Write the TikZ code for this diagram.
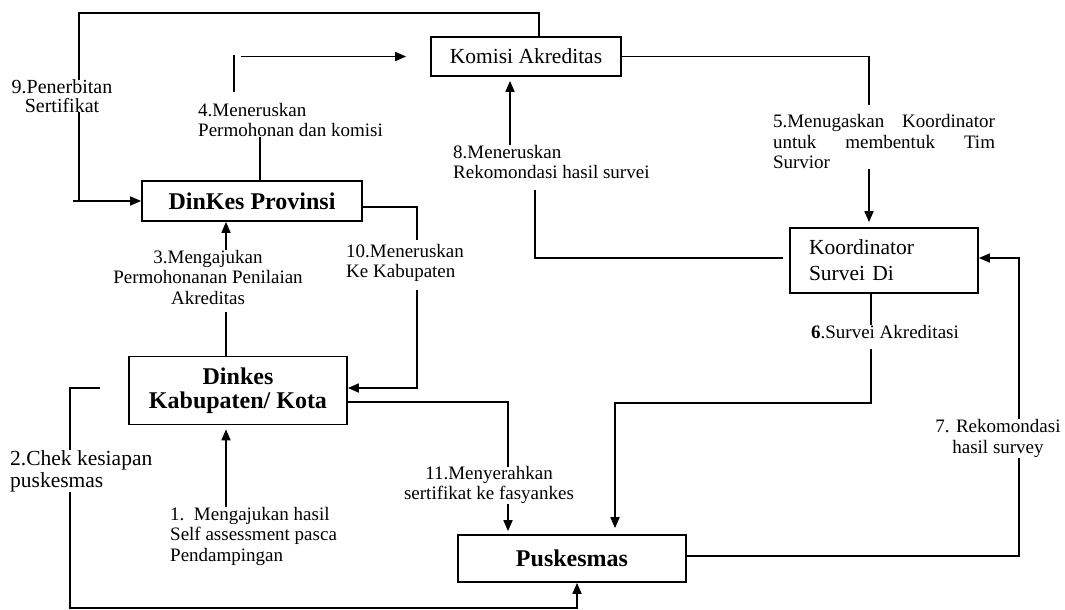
\documentclass[tikz,border=0pt]{standalone}
\usepackage{fontspec}
\setmainfont{Liberation Serif}
\usetikzlibrary{arrows.meta,positioning,calc}

\begin{document}
\begin{tikzpicture}[
    x=1pt, y=-1pt,
    box/.style={draw, line width=1.7pt, inner sep=0pt, align=center},
    boxtext/.style={font=\fontsize{21.5}{26}\selectfont},
    boldtext/.style={font=\fontsize{24}{24.5}\selectfont\bfseries},
    note/.style={font=\fontsize{19}{20.5}\selectfont, inner sep=0pt},
    line/.style={line width=1.7pt},
    arrow/.style={line, -{Triangle[length=11pt,width=9pt]}},
]
\useasboundingbox (0,0) rectangle (1065,610);

% Boxes
\node[box, boxtext, minimum width=190pt, minimum height=39pt] (kom) at (526,56.5) {Komisi Akreditas};
\node[box, boldtext, minimum width=220pt, minimum height=40pt] (prov) at (252,201) {DinKes Provinsi};
\node[box, boxtext, align=left, text width=150pt, inner xsep=19pt, minimum height=65pt] (koor) at (884,260.5) {Koordinator\\Survei Di};
\node[box, boldtext, minimum width=218pt, minimum height=68pt] (kab) at (238,390.5) {Dinkes\\Kabupaten/ Kota};
\node[box, boldtext, minimum width=228pt, minimum height=47pt] (pusk) at (572,558.5) {Puskesmas};

% Step labels
\node[note, align=center, font=\fontsize{20}{18.5}\selectfont] (lab9) at (62,96) {9.Penerbitan\\Sertifikat};
\node[note, align=left, anchor=west] (lab4) at (198,120) {4.Meneruskan\\Permohonan dan komisi};
\node[note, align=left, anchor=west] (lab8) at (453,162) {8.Meneruskan\\Rekomondasi hasil survei};
\node[note, align=left, text width=222pt] (lab5) at (884,142) {5.Menugaskan\hfill Koordinator\\untuk\hfill membentuk\hfill Tim\\Survior};
\node[note, align=center] (lab3) at (208,277) {3.Mengajukan\\Permohonanan Penilaian\\Akreditas};
\node[note, align=left, anchor=west] (lab10) at (346,263) {10.Meneruskan\\Ke Kabupaten};
\node[note, align=center] (lab6) at (885,332) {\textbf{6}.Survei Akreditasi};
\node[note, align=left, anchor=west, font=\fontsize{21.5}{22}\selectfont] (lab2) at (10,471) {2.Chek kesiapan\\puskesmas};
\node[note, align=center] (lab11) at (489,485) {11.Menyerahkan\\sertifikat ke fasyankes};
\node[note, align=center] (lab7) at (998,438.5) {7. Rekomondasi\\hasil survey};
\node[note, align=left, anchor=west] (lab1) at (170,536) {1.\ \ Mengajukan hasil\\Self assessment pasca\\Pendampingan};

% Lanes and bends
\coordinate (lane9) at (79,13);
\coordinate (stub9) at (73,201);
\coordinate (lane4) at (234,55);
\coordinate (lane4b) at (234,92);
\coordinate (lane5) at (869,105);
\coordinate (lane8) at (535,190);
\coordinate (lane3) at (226,0);
\coordinate (lane10) at (417,240);
\coordinate (lane11) at (508,467);
\coordinate (lane6) at (871,0);
\coordinate (bend6) at (615,403);
\coordinate (lane7) at (1019,0);
\coordinate (lane2) at (70,388);
\coordinate (stub2) at (100,388);
\coordinate (bot2) at (577,608);

% 9: Komisi back to Provinsi
\draw[line] ([xshift=13pt]kom.north) |- (lane9) -- (lane9 |- lab9.north);
\draw[arrow] (lab9.south -| lane9) |- (prov.west);
\draw[line] (stub9) -- (stub9 -| lane9);

% 4: Provinsi to Komisi
\draw[line] (lane4) -- (lane4b);
\draw[arrow, shorten <=7pt, shorten >=24pt] (lane4 |- kom.west) -- (kom.west);
\draw[line] ([xshift=8pt]prov.north) -- ([xshift=8pt]prov.north |- lab4.south);

% 5: Komisi to Koordinator
\draw[line] (kom.east) -| (lane5);
\draw[arrow, shorten >=5pt] (lab5.south -| lane5) -- (lane5 |- koor.north);

% 8: Koordinator back to Komisi
\draw[line, shorten <=6pt] ([yshift=2.5pt]koor.west) -| (lane8);
\draw[arrow, shorten >=4pt] ([xshift=-16pt]kom.south |- lab8.north) -- ([xshift=-16pt]kom.south);

% 3 and 1: Kabupaten up to Provinsi
\draw[arrow] (lab3.north -| lane3) -- (prov.south -| lane3);
\draw[line, shorten >=8pt] (kab.north -| lane3) -- (lab3.south -| lane3);
\draw[arrow, shorten >=4pt] (lab1.north -| lane3) -- (kab.south -| lane3);

% 10: Provinsi down to Kabupaten
\draw[line] ([yshift=-6pt]prov.east) -| (lane10);
\draw[arrow, shorten <=8pt] (lab10.south -| lane10) |- ([yshift=2.5pt]kab.east);

% 11: Kabupaten to Puskesmas
\draw[line] ([yshift=-11.5pt]kab.east) -| (lane11);
\draw[arrow, shorten >=3pt] (lab11.south -| lane11) -- (pusk.north -| lane11);

% 6: Koordinator to Puskesmas
\draw[line] (koor.south -| lane6) -- (lab6.north -| lane6);
\draw[arrow, shorten <=10pt, shorten >=6pt] (lab6.south -| lane6) |- (bend6) -- (bend6 |- pusk.north);

% 7: Puskesmas back to Koordinator
\draw[line] ([yshift=2.5pt]pusk.east) -| (lab7.south -| lane7);
\draw[arrow] (lab7.north -| lane7) |- ([yshift=2.5pt]koor.east);

% 2: Kabupaten checks Puskesmas
\draw[line] (stub2) -- (lane2) -- (lane2 |- lab2.north);
\draw[arrow] (lab2.south -| lane2) |- (bot2) -- (bot2 |- pusk.south);

\end{tikzpicture}
\end{document}
